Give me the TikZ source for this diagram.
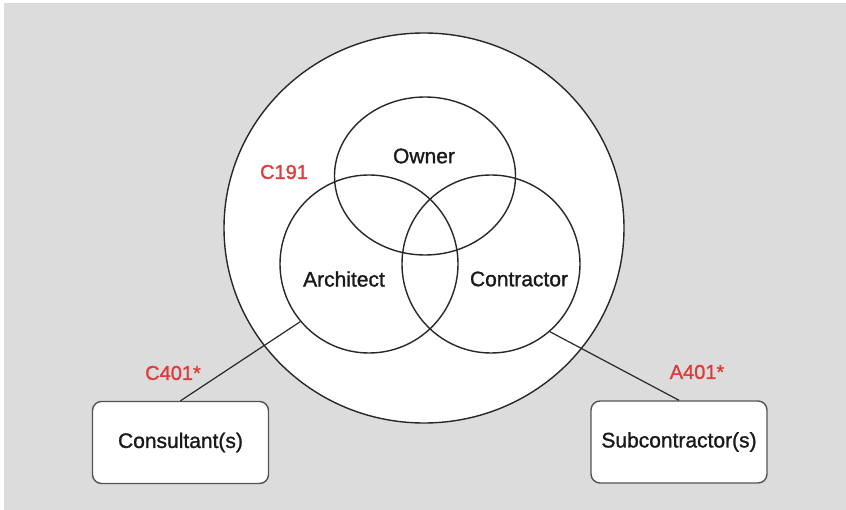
\documentclass[tikz,border=0pt]{standalone}
\usepackage{fontspec}
\setmainfont{Liberation Sans}
\newfontfamily\heavysans[FakeBold=1.2]{Liberation Sans}
\usetikzlibrary{shapes.geometric}
\definecolor{bggray}{RGB}{220,220,220}
\definecolor{linecol}{RGB}{40,40,40}
\definecolor{labred}{RGB}{222,60,60}
\begin{document}
\begin{tikzpicture}[x=1pt,y=-1pt,
  ring/.style={draw=linecol,line width=1.4pt,inner sep=0pt},
  party/.style={font=\heavysans\fontsize{21}{25}\selectfont,text=black!90},
  code/.style={font=\heavysans\fontsize{20}{24}\selectfont,text=labred},
  boxnode/.style={draw=linecol!80,line width=1.4pt,fill=white,rounded corners=9pt,
     minimum width=176pt,minimum height=82pt,inner sep=0pt,party},
  link/.style={draw=linecol,line width=1.2pt}]
\useasboundingbox (0,0) rectangle (846,510);
\fill[white] (0,0) rectangle (846,510);
\fill[bggray] (4,3) rectangle (846,510);
\node[ring,ellipse,fill=white,minimum width=400pt,minimum height=390pt] (outer) at (424,228) {};
\node[boxnode] (cons) at (180.5,442.5) {Consultant(s)};
\node[boxnode] (sub) at (679,442) {Subcontractor(s)};
\node[ring,ellipse,minimum width=181pt,minimum height=158pt] (owner) at (425,176) {};
\node[ring,circle,minimum size=178pt] (arch) at (369,264) {};
\node[ring,circle,minimum size=178pt] (contr) at (491,264) {};
\draw[link] (arch.220.5) -- (cons.north);
\draw[link] (contr.-49.5) -- (sub.north);
\node[party] (ownerlab) at (424,156) {Owner};
\node[party] (archlab) at (344,279) {Architect};
\node[party] (contrlab) at (519,279) {Contractor};
\node[code] (c191) at (284,172) {C191};
\node[code] (c401) at (173,373) {C401*};
\node[code] (a401) at (697,372) {A401*};
\end{tikzpicture}
\end{document}
